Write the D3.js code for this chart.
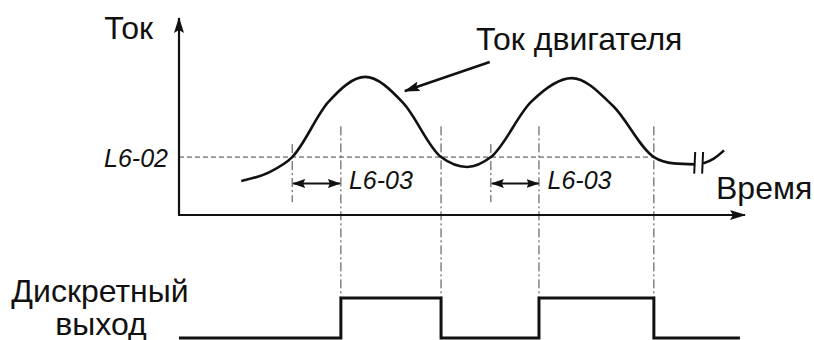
<!DOCTYPE html>
<html>
<head>
<meta charset="utf-8">
<script src="https://cdn.jsdelivr.net/npm/d3@7"></script>
<style>
	body { margin: 0; background: #fff; }
	text { font-family: "Liberation Sans", Arial, sans-serif; fill: #111; }
	.lbl { font-size: 32px; }
	.par { font-size: 25px; font-style: italic; }
</style>
</head>
<body>
<svg id="chart" width="814" height="340"></svg>
<script>
// motor current curve (time, current) in arbitrary units
const curveTime =    [1.10, 1.60, 2.00, 2.64, 3.29, 3.96, 4.63, 5.09, 5.51, 6.22, 6.94, 7.67, 8.39, 8.74, 9.12];
const curveCurrent = [1.73, 2.18, 2.94, 5.74, 7.01, 5.69, 2.94, 2.44, 2.94, 5.74, 6.95, 5.53, 2.94, 2.62, 2.57];

// tail after the break mark
const tailTime =    [9.26, 9.45, 9.63];
const tailCurrent = [2.62, 2.82, 3.28];
const breakTime = [9.12, 9.26];

const threshold = 2.94;          // L6-02
const delay = 0.86;              // L6-03
const riseTimes = [2.00, 5.51];  // current passes above L6-02
const fallTimes = [4.63, 8.39];  // current drops below L6-02

// digital output
const outTime =  [0, 2.86, 4.63, 6.36, 8.39, 9.91];
const outLevel = [0, 1,    0,    1,    0,    0];

const svg = d3.select("#chart");
const ink = "#111";

const x = d3.scaleLinear().domain([0, 10]).range([179, 745]);
const y = d3.scaleLinear().domain([0, 10]).range([215, 18]);
const yOut = d3.scaleLinear().domain([0, 1]).range([338, 298]);

const defs = svg.append("defs");

defs.append("marker")
	.attr("id", "head")
	.attr("markerUnits", "userSpaceOnUse")
	.attr("viewBox", "0 0 16 10")
	.attr("refX", 15).attr("refY", 5)
	.attr("markerWidth", 16).attr("markerHeight", 10)
	.attr("orient", "auto-start-reverse")
	.append("path")
	.attr("d", "M0,0L16,5L0,10L3,5Z")
	.attr("fill", ink);

defs.append("marker")
	.attr("id", "small")
	.attr("markerUnits", "userSpaceOnUse")
	.attr("viewBox", "0 0 13 9")
	.attr("refX", 12).attr("refY", 4.5)
	.attr("markerWidth", 13).attr("markerHeight", 9)
	.attr("orient", "auto-start-reverse")
	.append("path")
	.attr("d", "M0,0L13,4.5L0,9L2,4.5Z")
	.attr("fill", ink);

// --------------------------------------------------------------------
// guide lines

svg.append("line")
	.attr("x1", x(0)).attr("x2", x(fallTimes[1]))
	.attr("y1", y(threshold)).attr("y2", y(threshold))
	.attr("stroke", "#444").attr("stroke-width", 1)
	.attr("stroke-dasharray", "5,3");

riseTimes.forEach(t => {
	svg.append("line")
		.attr("x1", x(t)).attr("x2", x(t))
		.attr("y1", y(3.6)).attr("y2", y(0.65))
		.attr("stroke", "#444").attr("stroke-width", 1)
		.attr("stroke-dasharray", "9,3,2,3");
});

outTime.slice(1, 5).forEach(t => {
	svg.append("line")
		.attr("x1", x(t)).attr("x2", x(t))
		.attr("y1", y(4.5)).attr("y2", yOut(0))
		.attr("stroke", "#444").attr("stroke-width", 1)
		.attr("stroke-dasharray", "9,3,2,3");
});

// --------------------------------------------------------------------
// axes

svg.append("line")
	.attr("x1", x(0)).attr("x2", x(0))
	.attr("y1", y(0)).attr("y2", y(10))
	.attr("stroke", ink).attr("stroke-width", 2.2)
	.attr("marker-end", "url(#head)");

svg.append("line")
	.attr("x1", x(0) - 1).attr("x2", x(10))
	.attr("y1", y(0)).attr("y2", y(0))
	.attr("stroke", ink).attr("stroke-width", 2)
	.attr("marker-end", "url(#head)");

// --------------------------------------------------------------------
// current curve

const line = d3.line()
	.x(d => x(d[0]))
	.y(d => y(d[1]))
	.curve(d3.curveMonotoneX);

svg.append("path")
	.datum(d3.zip(curveTime, curveCurrent))
	.attr("d", line)
	.attr("fill", "none")
	.attr("stroke", ink)
	.attr("stroke-width", 2.6);

svg.append("path")
	.datum(d3.zip(tailTime, tailCurrent))
	.attr("d", line.curve(d3.curveBasis))
	.attr("fill", "none")
	.attr("stroke", ink)
	.attr("stroke-width", 2.6);

breakTime.forEach(t => {
	svg.append("line")
		.attr("x1", x(t)).attr("x2", x(t) - 1)
		.attr("y1", y(3.2)).attr("y2", y(2.1))
		.attr("stroke", ink).attr("stroke-width", 2);
});

// L6-03 delay arrows
riseTimes.forEach(t => {
	svg.append("line")
		.attr("x1", x(t) + 1).attr("x2", x(t + delay) - 1)
		.attr("y1", y(1.6)).attr("y2", y(1.6))
		.attr("stroke", ink).attr("stroke-width", 2)
		.attr("marker-start", "url(#small)")
		.attr("marker-end", "url(#small)");

	svg.append("text")
		.attr("class", "par")
		.attr("x", x(t + delay) + 8)
		.attr("y", y(1.32))
		.text("L6-03");
});

// pointer to the curve
svg.append("line")
	.attr("x1", x(5.49)).attr("y1", y(7.77))
	.attr("x2", x(3.99)).attr("y2", y(6.29))
	.attr("stroke", ink).attr("stroke-width", 2.6)
	.attr("marker-end", "url(#head)");

// --------------------------------------------------------------------
// digital output

const step = d3.line()
	.x(d => x(d[0]))
	.y(d => yOut(d[1]))
	.curve(d3.curveStepAfter);

svg.append("path")
	.datum(d3.zip(outTime, outLevel))
	.attr("d", step)
	.attr("fill", "none")
	.attr("stroke", ink)
	.attr("stroke-width", 3);

// --------------------------------------------------------------------
// labels

svg.append("text").attr("class", "lbl")
	.attr("x", x(0) - 26).attr("y", 39)
	.attr("text-anchor", "end")
	.text("Ток");

svg.append("text").attr("class", "lbl")
	.attr("x", 476).attr("y", 50)
	.text("Ток двигателя");

svg.append("text").attr("class", "lbl")
	.attr("x", 716).attr("y", 199)
	.text("Время");

svg.append("text").attr("class", "par")
	.attr("x", x(0) - 11).attr("y", y(threshold) + 10)
	.attr("text-anchor", "end")
	.text("L6-02");

svg.append("text").attr("class", "lbl")
	.attr("x", 100).attr("y", 302)
	.attr("text-anchor", "middle")
	.text("Дискретный");

svg.append("text").attr("class", "lbl")
	.attr("x", 101).attr("y", 335)
	.attr("text-anchor", "middle")
	.text("выход");
</script>
</body>
</html>
